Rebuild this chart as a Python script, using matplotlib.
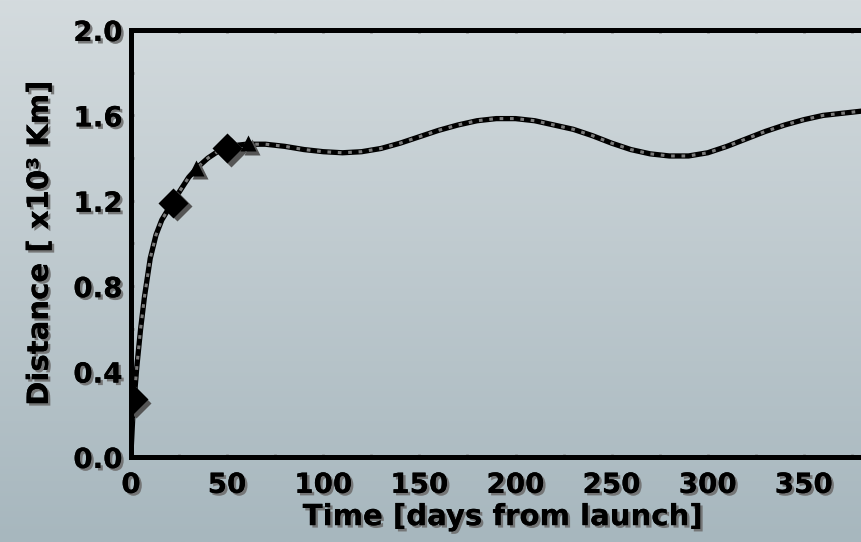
import numpy as np
import matplotlib
matplotlib.use("Agg")
import matplotlib.pyplot as plt
import matplotlib.patheffects as pe
from matplotlib.ticker import MultipleLocator
from matplotlib.transforms import offset_copy

# ---- data ----
days = [0, 1, 2, 3, 5, 7, 10, 13, 16, 20, 25, 30, 35, 40, 45, 50, 55, 60, 70, 80,
        90, 100, 110, 120, 130, 140, 150, 160, 170, 180, 190, 200, 210, 220, 230,
        240, 250, 260, 270, 280, 290, 300, 310, 320, 330, 340, 350, 360, 370, 380,
        390, 400]
distance = [0.02, 0.20, 0.31, 0.42, 0.60, 0.75, 0.93, 1.04, 1.11, 1.17, 1.24, 1.31,
            1.36, 1.40, 1.43, 1.445, 1.46, 1.465, 1.465, 1.455, 1.44, 1.43, 1.425,
            1.43, 1.445, 1.47, 1.50, 1.53, 1.555, 1.575, 1.585, 1.585, 1.575, 1.555,
            1.535, 1.505, 1.47, 1.44, 1.42, 1.41, 1.41, 1.425, 1.455, 1.49, 1.525,
            1.555, 1.58, 1.60, 1.61, 1.62, 1.62, 1.62]
diamond_days = [1, 22, 50]
diamond_vals = [0.27, 1.19, 1.445]
triangle_days = [34, 61]
triangle_vals = [1.355, 1.47]
xticks = [0, 50, 100, 150, 200, 250, 300, 350]
yticks = [0.0, 0.4, 0.8, 1.2, 1.6, 2.0]

W, H = 862, 542
fig = plt.figure(figsize=(W / 100, H / 100), dpi=100)

# gradient background
bg = fig.add_axes([0, 0, 1, 1], zorder=-10)
top = np.array([212, 219, 222]) / 255
bot = np.array([167, 183, 190]) / 255
t = np.linspace(0, 1, 256)[:, None]
grad = (top[None, :] * (1 - t) + bot[None, :] * t)[:, None, :]
bg.imshow(grad, aspect="auto", extent=[0, 1, 0, 1])
bg.set_axis_off()

left = 131 / W
right = 900 / W
bottom = (H - 457) / H
topy = (H - 30) / H
ax = fig.add_axes([left, bottom, right - left, topy - bottom])
ax.set_facecolor("none")

shadow_text = [pe.withSimplePatchShadow(offset=(1.8, -1.8), shadow_rgbFace="#6e6e6e", alpha=0.9),
               pe.Normal()]

# curve: black line with gray dashes
ax.plot(days, distance, color="black", lw=3.8, solid_capstyle="butt", zorder=3)
ax.plot(days, distance, color="#7a7a7a", lw=2.2, dashes=(1.2, 2.2), zorder=4)

# markers with gray shadow
sh = offset_copy(ax.transData, fig=fig, x=2.5, y=-2.5, units="points")
ax.plot(diamond_days, diamond_vals, "D", ms=15, color="#555555", mec="none", transform=sh, zorder=5)
ax.plot(triangle_days, triangle_vals, "^", ms=11, color="#555555", mec="none", transform=sh, zorder=5)
ax.plot(diamond_days, diamond_vals, "D", ms=15, color="black", mec="none", zorder=6)
ax.plot(triangle_days, triangle_vals, "^", ms=11, color="black", mec="none", zorder=6)

ax.set_xlim(0, 400)
ax.set_ylim(0, 2.0)
ax.set_xticks(xticks)
ax.set_yticks(yticks)
ax.set_yticklabels([f"{v:.1f}" for v in yticks])
ax.xaxis.set_minor_locator(MultipleLocator(25))
ax.yaxis.set_minor_locator(MultipleLocator(0.2))

for s in ax.spines.values():
    s.set_linewidth(3.6)
    s.set_color("black")
    s.set_zorder(7)

ax.tick_params(which="both", direction="in", color="#808080", width=2, length=2.5,
               top=True, right=True)
ax.tick_params(which="major", labelsize=20, pad=6)
ax.tick_params(axis="x", which="major", pad=10)

for lab in ax.get_xticklabels() + ax.get_yticklabels():
    lab.set_fontweight("bold")
    lab.set_path_effects(shadow_text)

ax.set_xlabel("Time [days from launch]", fontsize=21, fontweight="bold",
              path_effects=shadow_text)
ax.xaxis.set_label_coords(0.483, -0.108)
ax.set_ylabel("Distance [ x10³ Km]", fontsize=21, fontweight="bold", labelpad=14,
              path_effects=shadow_text)

fig.savefig("out.png", dpi=100)
